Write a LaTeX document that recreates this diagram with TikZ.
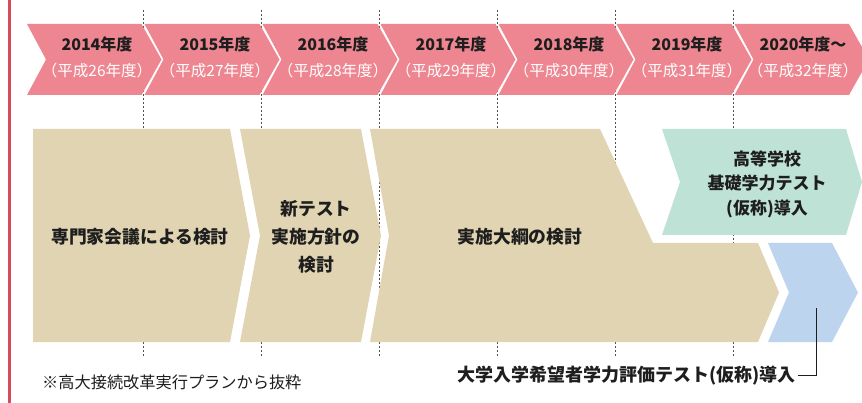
\documentclass[tikz,border=0pt]{standalone}
\usepackage{fontspec}
\setmainfont{Noto Sans CJK JP}
\definecolor{pinkc}{RGB}{238,134,145}
\definecolor{tanc}{RGB}{225,212,178}
\definecolor{greenc}{RGB}{191,226,215}
\definecolor{bluec}{RGB}{188,212,238}
\definecolor{redline}{RGB}{214,76,90}
\definecolor{dotc}{RGB}{80,80,80}
\definecolor{txtc}{RGB}{30,30,30}
\begin{document}
\begin{tikzpicture}[x=1pt,y=-1pt,
  dotline/.style={draw=dotc,line width=1pt,dash pattern=on 2pt off 2pt},
  yrtext/.style={inner sep=0pt,text=txtc,font=\bfseries\fontsize{16}{19}\selectfont},
  subtext/.style={inner sep=0pt,text=white,font=\fontsize{15.5}{18}\selectfont},
  bigtext/.style={inner sep=0pt,text=txtc,align=center,font=\bfseries\fontsize{17.8}{28}\selectfont},
  greentext/.style={inner sep=0pt,text=txtc,align=center,font=\bfseries\fontsize{17}{24.5}\selectfont},
  labeltext/.style={inner sep=2pt,text=txtc,font=\bfseries\fontsize{18}{21}\selectfont},
  notetext/.style={inner sep=0pt,text=txtc,font=\fontsize{16.2}{19}\selectfont},
  conn/.style={draw=txtc,line width=0.9pt}]
\useasboundingbox (0,0) rectangle (862,403);
\clip (0,0) rectangle (862,403);
\fill[white] (0,0) rectangle (862,403);
% red vertical line
\draw[redline,line width=2.5pt] (9.5,0) -- (9.5,403);
% dotted year guides
\foreach \x in {143,261,379,497,615,733}
  \draw[dotline] (\x,10) -- (\x,357);
% top year chevrons
\foreach \i/\yr/\hs in {1/2014年度/26,2/2015年度/27,3/2016年度/28,4/2017年度/29,5/2018年度/30,6/2019年度/31,7/2020年度〜/32}{
  \pgfmathsetmacro\L{\i==1 ? 27 : 143+118*(\i-2)+1.5}
  \pgfmathsetmacro\R{\i==7 ? 849 : 143+118*(\i-1)-1.5}
  \pgfmathsetmacro\C{\i==7 ? 803 : 143+118*(\i-1)-46}
  \fill[pinkc] (\L,24) -- (\R,24) -- (\R+20,59.5) -- (\R,95) -- (\L,95) -- (\L+19,59.5) -- cycle;
  \node[yrtext] (yr\i) at (\C,44.5) {\yr};
  \node[subtext] (hs\i) at (\C,70.5) {（平成\hs 年度）};
}
% tan shapes
\fill[tanc] (33,129) -- (230,129) -- (250,235.5) -- (230,342) -- (33,342) -- cycle;
\fill[tanc] (240,129) -- (361,129) -- (381,235.5) -- (361,342) -- (240,342) -- (260,235.5) -- cycle;
\fill[tanc] (370,129) -- (600,129) -- (653,243) -- (758,243) -- (779,292.5) -- (758,342) -- (370,342) -- (389,235.5) -- cycle;
% green shape
\fill[greenc] (662,129) -- (846,129) -- (862,182) -- (846,235) -- (662,235) -- (680,182) -- cycle;
% blue shape
\fill[bluec] (768,243) -- (832,243) -- (858,292.5) -- (832,342) -- (768,342) -- (789,292.5) -- cycle;
% texts
\node[bigtext] (t1) at (140,237) {専門家会議による検討};
\node[bigtext] (t2) at (316,237) {新テスト\\実施方針の\\検討};
\node[bigtext] (t3) at (520,237) {実施大綱の検討};
\node[greentext] (t4) at (767,184) {高等学校\\基礎学力テスト\\(仮称)導入};
% bottom label and connector
\coordinate (bluept) at (816,308);
\node[labeltext,anchor=east] (lab) at (798,375.5) {大学入学希望者学力評価テスト(仮称)導入};
\draw[conn] (bluept) |- (lab.east);
\node[notetext,anchor=west] (note) at (42,382) {※高大接続改革実行プランから抜粋};
\end{tikzpicture}
\end{document}
